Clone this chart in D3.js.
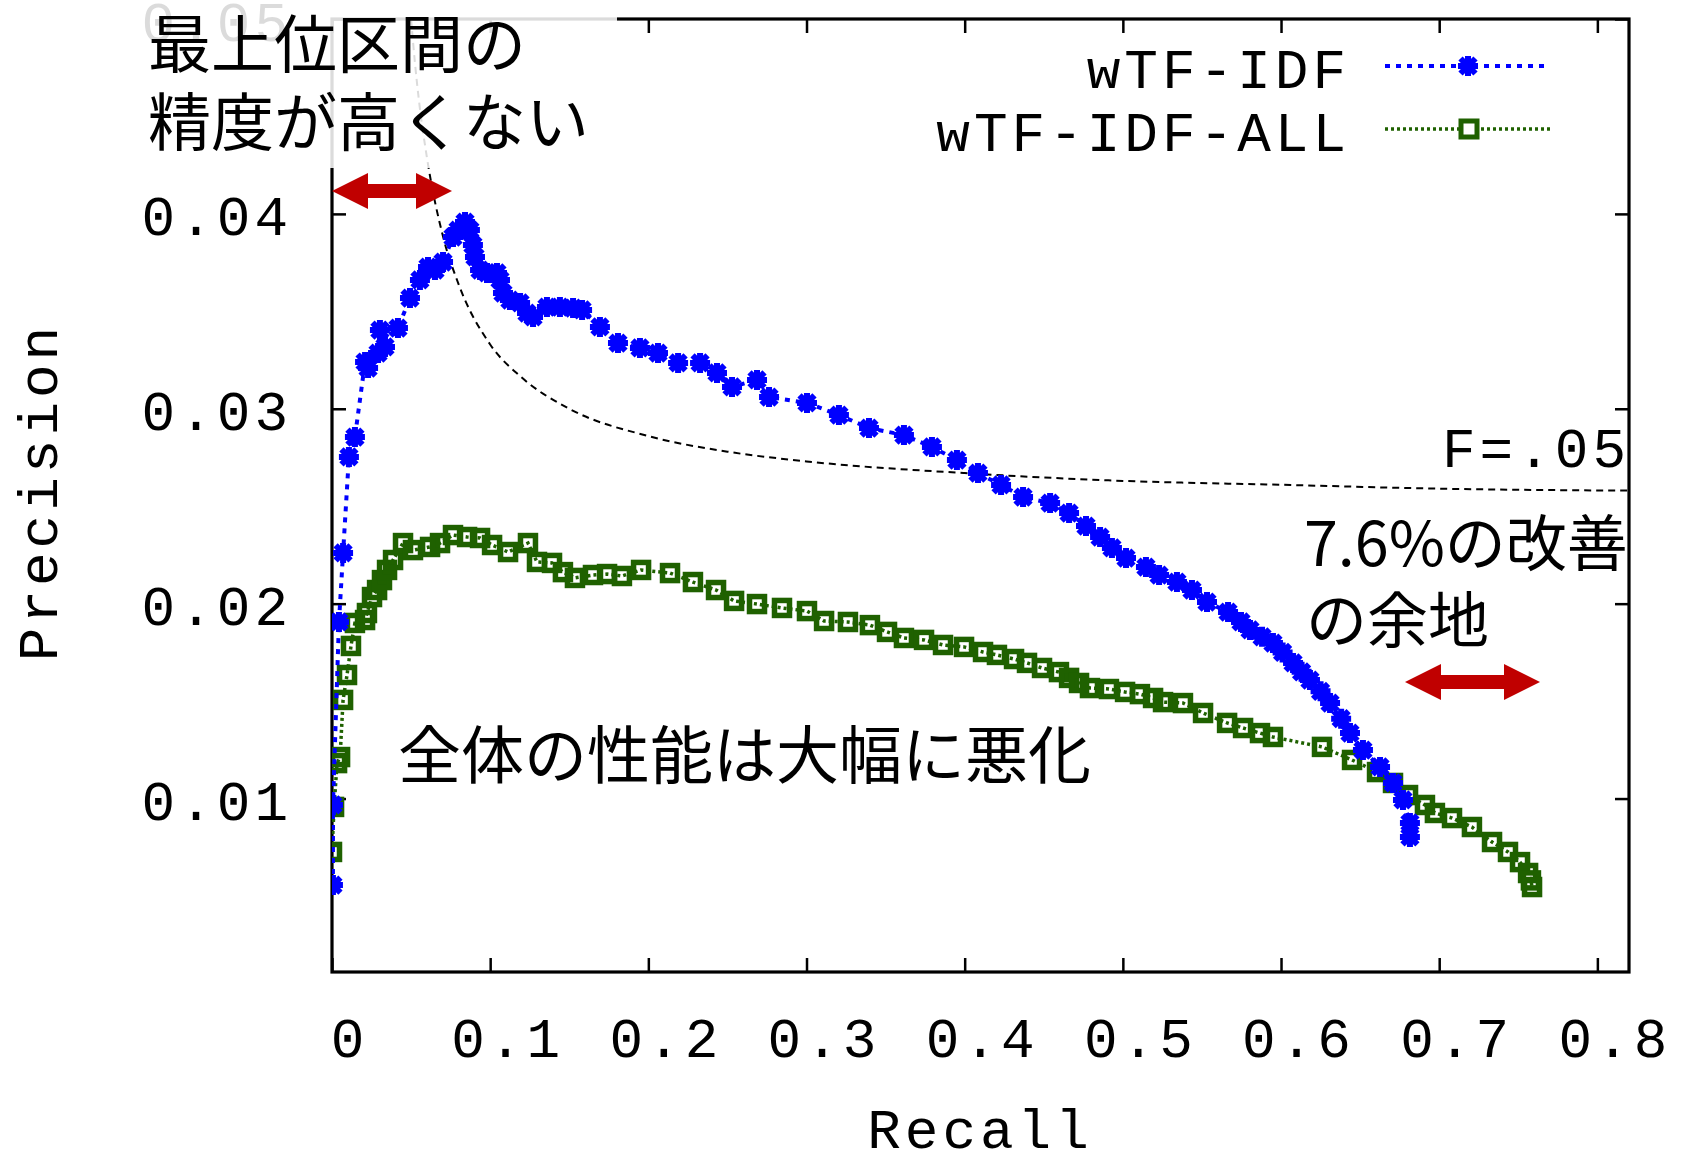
<!DOCTYPE html>
<html>
<head>
<meta charset="utf-8">
<script src="https://cdn.jsdelivr.net/npm/d3@7"></script>
<style>
  body { margin: 0; background: #fff; }
</style>
</head>
<body>
<script>
// recall / precision pairs
const wtfRecall = [0.0006, 0.0006, 0.0044, 0.0070, 0.0107, 0.0145, 0.0209, 0.0228, 0.0291, 0.0303, 0.0335, 0.0417, 0.0493, 0.0556, 0.0607, 0.0651, 0.0702, 0.0765, 0.0797, 0.0841, 0.0872, 0.0891, 0.0904, 0.0936, 0.0980, 0.1043, 0.1062, 0.1081, 0.1125, 0.1189, 0.1233, 0.1271, 0.1359, 0.1441, 0.1524, 0.1581, 0.1694, 0.1808, 0.1947, 0.2061, 0.2188, 0.2327, 0.2434, 0.2529, 0.2687, 0.2763, 0.3003, 0.3205, 0.3395, 0.3616, 0.3793, 0.3951, 0.4084, 0.4230, 0.4369, 0.4540, 0.4660, 0.4767, 0.4856, 0.4931, 0.5020, 0.5146, 0.5229, 0.5342, 0.5437, 0.5532, 0.5665, 0.5747, 0.5804, 0.5880, 0.5949, 0.6010, 0.6076, 0.6130, 0.6183, 0.6250, 0.6310, 0.6380, 0.6436, 0.6518, 0.6626, 0.6708, 0.6771, 0.6815, 0.6815];
const wtfPrecision = [0.00556, 0.00967, 0.01906, 0.0226, 0.02753, 0.02855, 0.0324, 0.03209, 0.03286, 0.03404, 0.03317, 0.03414, 0.03568, 0.03661, 0.03727, 0.03712, 0.03753, 0.03881, 0.03917, 0.03958, 0.03917, 0.0384, 0.03779, 0.03712, 0.03697, 0.03697, 0.03661, 0.03594, 0.03558, 0.03543, 0.03491, 0.03471, 0.03522, 0.03522, 0.03517, 0.03507, 0.0342, 0.03337, 0.03312, 0.03286, 0.03235, 0.03235, 0.03184, 0.03112, 0.03148, 0.0306, 0.0303, 0.02968, 0.02901, 0.02865, 0.02804, 0.02737, 0.0267, 0.02609, 0.02547, 0.02516, 0.02465, 0.02398, 0.02342, 0.02286, 0.02234, 0.02188, 0.02147, 0.02111, 0.0207, 0.02008, 0.01957, 0.01906, 0.01865, 0.0183, 0.01798, 0.01750, 0.01696, 0.01650, 0.01608, 0.01550, 0.0149, 0.01410, 0.01336, 0.01249, 0.01162, 0.0108, 0.00993, 0.00875, 0.00803];

const allRecall = [0.0000, 0.0013, 0.0032, 0.0051, 0.0070, 0.0095, 0.0120, 0.0145, 0.0209, 0.0221, 0.0253, 0.0285, 0.0316, 0.0348, 0.0386, 0.0449, 0.0512, 0.0620, 0.0683, 0.0765, 0.0854, 0.0936, 0.1012, 0.1113, 0.1239, 0.1296, 0.1391, 0.1460, 0.1536, 0.1650, 0.1739, 0.1833, 0.1954, 0.2137, 0.2282, 0.2428, 0.2542, 0.2687, 0.2845, 0.3003, 0.3111, 0.3262, 0.3401, 0.3509, 0.3616, 0.3743, 0.3863, 0.3996, 0.4116, 0.4204, 0.4312, 0.4394, 0.4489, 0.4596, 0.4660, 0.4723, 0.4792, 0.4912, 0.5014, 0.5108, 0.5191, 0.5254, 0.5380, 0.5507, 0.5659, 0.5760, 0.5867, 0.5949, 0.6259, 0.6449, 0.6607, 0.6708, 0.6803, 0.6910, 0.6973, 0.7081, 0.7207, 0.7334, 0.7435, 0.7511, 0.7562, 0.7580, 0.7587];
const allPrecision = [0.00726, 0.00957, 0.01182, 0.01213, 0.01506, 0.01634, 0.01783, 0.01901, 0.01916, 0.01952, 0.02034, 0.0207, 0.02121, 0.02173, 0.02224, 0.02311, 0.02275, 0.02291, 0.02311, 0.02352, 0.02342, 0.02337, 0.02301, 0.02265, 0.02311, 0.02214, 0.02209, 0.02162, 0.02132, 0.02147, 0.02152, 0.02142, 0.02173, 0.02157, 0.02111, 0.0207, 0.02014, 0.01998, 0.01978, 0.01962, 0.01911, 0.01906, 0.0189, 0.01855, 0.01824, 0.01814, 0.01788, 0.01778, 0.01752, 0.01737, 0.01716, 0.01696, 0.0167, 0.01649, 0.01619, 0.01593, 0.01567, 0.01562, 0.01547, 0.01536, 0.01516, 0.01495, 0.0149, 0.01439, 0.01388, 0.01362, 0.01336, 0.01316, 0.01265, 0.01198, 0.01136, 0.0108, 0.01018, 0.00967, 0.00926, 0.009, 0.00854, 0.00777, 0.00726, 0.00674, 0.00618, 0.0058, 0.00546];

// iso F=.05 curve
const fRecall = [0.05, 0.0525, 0.055, 0.06, 0.07, 0.08, 0.1, 0.12, 0.15, 0.2, 0.25, 0.3, 0.4, 0.5, 0.6, 0.7, 0.82];
const fPrecision = [0.05, 0.0477, 0.0458, 0.0429, 0.0389, 0.0364, 0.0333, 0.0316, 0.03, 0.0286, 0.0278, 0.0273, 0.0267, 0.0263, 0.0261, 0.0259, 0.0258];

const recallTicks = [0, 0.1, 0.2, 0.3, 0.4, 0.5, 0.6, 0.7, 0.8];
const precisionTicks = [0.01, 0.02, 0.03, 0.04, 0.05];
const seriesNames = ["wTF-IDF", "wTF-IDF-ALL"];

var mono = "'Liberation Mono', 'DejaVu Sans Mono', monospace";
var jp = "'Noto Sans CJK JP', sans-serif";

var svg = d3.select("body")
            .append("svg")
            .attr("width", 1688)
            .attr("height", 1155);

svg.append('rect').attr('width', 1688).attr('height', 1155).attr('fill', 'white');

var x = d3.scaleLinear().domain([0, 0.82]).range([332, 1629]);
var y = d3.scaleLinear().domain([0.0011, 0.05]).range([972, 19]);

svg.append('defs').append('clipPath').attr('id', 'plotclip')
   .append('rect').attr('x', 332).attr('y', 19).attr('width', 1297).attr('height', 953);

// axes, ticks pointing inward on all four sides
var bottom = svg.append('g')
   .attr('transform', 'translate(0,972)')
   .call(d3.axisBottom(x).tickValues(recallTicks).tickSize(-14).tickSizeOuter(0)
         .tickFormat(d => d === 0 ? "0" : d3.format(".1f")(d)));
bottom.selectAll('text')
   .attr('y', 85).attr('dy', 0).attr('x', 17)
   .attr('font-family', mono).attr('font-size', 56).attr('letter-spacing', 4).attr('fill', 'black');

var left = svg.append('g')
   .attr('transform', 'translate(332,0)')
   .call(d3.axisLeft(y).tickValues(precisionTicks).tickSize(-14).tickSizeOuter(0)
         .tickFormat(d3.format(".2f")));
left.selectAll('text')
   .attr('x', -40).attr('dy', 0).attr('y', 21)
   .attr('font-family', mono).attr('font-size', 56).attr('letter-spacing', 4).attr('fill', 'black');

svg.append('g').attr('transform', 'translate(0,19)')
   .call(d3.axisTop(x).tickValues(recallTicks).tickSize(-14).tickSizeOuter(0).tickFormat(""));
svg.append('g').attr('transform', 'translate(1629,0)')
   .call(d3.axisRight(y).tickValues(precisionTicks).tickSize(-14).tickSizeOuter(0).tickFormat(""));

svg.selectAll('.domain').remove();
svg.selectAll('.tick line').attr('stroke', 'black').attr('stroke-width', 2.5);

svg.append('rect')
   .attr('x', 332).attr('y', 19).attr('width', 1297).attr('height', 953)
   .attr('fill', 'none').attr('stroke', 'black').attr('stroke-width', 3.2);

// axis titles
svg.append('text')
   .attr('x', 980).attr('y', 1148)
   .attr('text-anchor', 'middle')
   .attr('font-family', mono).attr('font-size', 56).attr('letter-spacing', 4)
   .text("Recall");

svg.append('text')
   .attr('transform', 'translate(57,492) rotate(-90)')
   .attr('text-anchor', 'middle')
   .attr('font-family', mono).attr('font-size', 56).attr('letter-spacing', 4)
   .text("Precision");

var plot = svg.append('g').attr('clip-path', 'url(#plotclip)');

// F=.05 dashed curve
const fCurve = d3.line().x(d => x(d[0])).y(d => y(d[1])).curve(d3.curveMonotoneX);
plot.append('path')
   .attr('d', fCurve(d3.zip(fRecall, fPrecision)))
   .attr('fill', 'none').attr('stroke', 'black')
   .attr('stroke-width', 2).attr('stroke-dasharray', '7,5');

svg.append('text')
   .attr('x', 1630).attr('y', 467)
   .attr('text-anchor', 'end')
   .attr('font-family', mono).attr('font-size', 56).attr('letter-spacing', 4)
   .text("F=.05");

const line = d3.line().x(d => x(d[0])).y(d => y(d[1]));
var blue = '#0000ff';
var green = '#1f6100';
var star = "M-10,0H10M0,-10V10M-7.5,-7.5L7.5,7.5M-7.5,7.5L7.5,-7.5";

var allData = d3.zip(allRecall, allPrecision);
var wtfData = d3.zip(wtfRecall, wtfPrecision);

plot.append('path')
   .attr('d', line(allData))
   .attr('fill', 'none').attr('stroke', green)
   .attr('stroke-width', 3.5).attr('stroke-dasharray', '3,3');

plot.selectAll('.sq').data(allData).enter()
   .append('rect')
   .attr('x', d => x(d[0]) - 7.5).attr('y', d => y(d[1]) - 7.5)
   .attr('width', 15).attr('height', 15)
   .attr('fill', 'none').attr('stroke', green).attr('stroke-width', 5.5);

plot.append('path')
   .attr('d', line(wtfData))
   .attr('fill', 'none').attr('stroke', blue)
   .attr('stroke-width', 4).attr('stroke-dasharray', '5,6');

plot.selectAll('.st').data(wtfData).enter()
   .append('path')
   .attr('transform', d => 'translate(' + x(d[0]) + ',' + y(d[1]) + ')')
   .attr('d', star)
   .attr('fill', 'none').attr('stroke', blue).attr('stroke-width', 6);

// legend
var legendY = [66, 129];
var legendLine = d3.scaleLinear().domain([0, 1]).range([1385, 1550]);
seriesNames.forEach(function(name, i) {
  svg.append('text')
     .attr('x', 1350).attr('y', legendY[i] + 22)
     .attr('text-anchor', 'end')
     .attr('font-family', mono).attr('font-size', 56).attr('letter-spacing', 4)
     .text(name);
  svg.append('line')
     .attr('x1', legendLine(0)).attr('x2', legendLine(1))
     .attr('y1', legendY[i]).attr('y2', legendY[i])
     .attr('stroke', i === 0 ? blue : green)
     .attr('stroke-width', i === 0 ? 4 : 3.5)
     .attr('stroke-dasharray', i === 0 ? '5,6' : '3,3');
});
svg.append('path')
   .attr('transform', 'translate(1468,66)')
   .attr('d', star)
   .attr('fill', 'none').attr('stroke', blue).attr('stroke-width', 6);
svg.append('rect')
   .attr('x', 1469 - 8).attr('y', 129 - 8).attr('width', 16).attr('height', 16)
   .attr('fill', 'white').attr('stroke', green).attr('stroke-width', 5);

// annotation box top left (semi transparent white)
svg.append('rect')
   .attr('x', 135).attr('y', 0).attr('width', 482).attr('height', 168)
   .attr('fill', 'white').attr('fill-opacity', 0.86);

svg.append('text').attr('x', 148).attr('y', 67)
   .attr('font-family', jp).attr('font-size', 63).text("最上位区間の");
svg.append('text').attr('x', 148).attr('y', 145)
   .attr('font-family', jp).attr('font-size', 63).text("精度が高くない");
svg.append('text').attr('x', 398).attr('y', 778)
   .attr('font-family', jp).attr('font-size', 63).text("全体の性能は大幅に悪化");
svg.append('text').attr('x', 1304).attr('y', 566)
   .attr('font-family', jp).attr('font-size', 61).text("7.6%の改善");
svg.append('text').attr('x', 1306).attr('y', 643)
   .attr('font-family', jp).attr('font-size', 61).text("の余地");

// red double arrows
function dblArrow(x1, x2, yy) {
  var h = 36, hw = 18, sw = 7;
  var pts = [[x1, yy], [x1 + h, yy - hw], [x1 + h, yy - sw], [x2 - h, yy - sw], [x2 - h, yy - hw],
             [x2, yy], [x2 - h, yy + hw], [x2 - h, yy + sw], [x1 + h, yy + sw], [x1 + h, yy + hw]];
  svg.append('path')
     .attr('d', 'M' + pts.join('L') + 'Z')
     .attr('fill', '#c00000');
}
dblArrow(332, 452, 191);
dblArrow(1405, 1540, 682);
</script>
</body>
</html>
